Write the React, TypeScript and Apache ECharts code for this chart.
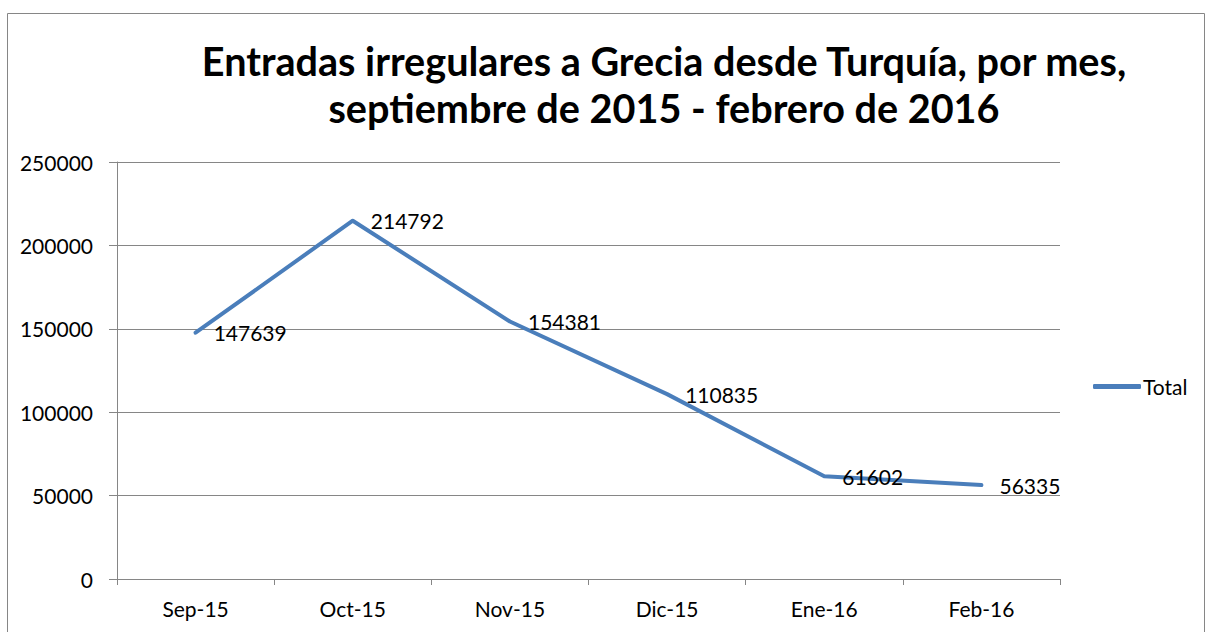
import React, { useEffect, useRef } from "react";
import * as echarts from "echarts";

const categories = ["Sep-15", "Oct-15", "Nov-15", "Dic-15", "Ene-16", "Feb-16"];
const totals = [147639, 214792, 154381, 110835, 61602, 56335];
const titleLines = [
  "Entradas irregulares a Grecia desde Turquía, por mes,",
  "septiembre de 2015 - febrero de 2016",
];
const seriesName = "Total";

const FONT = "Lato, 'Open Sans', 'Noto Sans', sans-serif";
const GRAY = "#868686";
const BLUE = "#4A7EBB";

export default function App() {
  const ref = useRef<HTMLDivElement>(null);
  useEffect(() => {
    if (!ref.current) return;
    const chart = echarts.init(ref.current, undefined, { renderer: "svg" });
    chart.setOption({
      animation: false,
      backgroundColor: "#ffffff",
      textStyle: { fontFamily: FONT },
      title: {
        text: titleLines.join("\n"),
        left: 659,
        top: 32,
        textAlign: "center",
        textStyle: {
          fontFamily: FONT,
          fontWeight: "bold",
          fontSize: 39.6,
          lineHeight: 47,
          color: "#000",
        },
      },
      graphic: [
        {
          type: "rect",
          shape: { x: 7.5, y: 13.5, width: 1197, height: 700 },
          style: { fill: "none", stroke: GRAY, lineWidth: 1 },
          silent: true,
        },
      ],
      legend: {
        data: [{ name: seriesName, icon: "roundRect" }],
        left: 1093,
        top: 376,
        itemWidth: 48,
        itemHeight: 5,
        itemGap: 4,
        itemStyle: { color: BLUE },
        textStyle: { fontFamily: FONT, fontSize: 21, color: "#000", padding: [0, 0, 0, -3] },
        padding: 0,
      },
      grid: { left: 117, right: 146, top: 162, bottom: 53, containLabel: false },
      xAxis: {
        type: "category",
        data: categories,
        boundaryGap: true,
        axisLine: { lineStyle: { color: GRAY, width: 1 } },
        axisTick: { show: true, length: 6, lineStyle: { color: GRAY } },
        axisLabel: { color: "#000", fontSize: 21, margin: 19, fontFamily: FONT },
      },
      yAxis: {
        type: "value",
        min: 0,
        max: 250000,
        interval: 50000,
        axisLine: { show: true, lineStyle: { color: GRAY, width: 1 } },
        axisTick: { show: true, length: 8, lineStyle: { color: GRAY } },
        splitLine: { show: true, lineStyle: { color: GRAY, width: 1 } },
        axisLabel: {
          color: "#000",
          fontSize: 21,
          margin: 24,
          fontFamily: FONT,
          formatter: (v: number) => String(v),
        },
      },
      series: [
        {
          name: seriesName,
          type: "line",
          data: totals,
          symbol: "circle",
          symbolSize: 0.1,
          showSymbol: true,
          lineStyle: { color: BLUE, width: 4, cap: "round", join: "round" },
          itemStyle: { color: BLUE },
          label: {
            show: true,
            position: "right",
            distance: 18,
            color: "#000",
            fontSize: 21,
            fontFamily: FONT,
            formatter: (p: any) => String(p.value),
          },
        },
      ],
    });
    return () => chart.dispose();
  }, []);
  return (
    <div
      ref={ref}
      style={{ position: "absolute", left: 0, top: 0, width: 1206, height: 632 }}
    />
  );
}
